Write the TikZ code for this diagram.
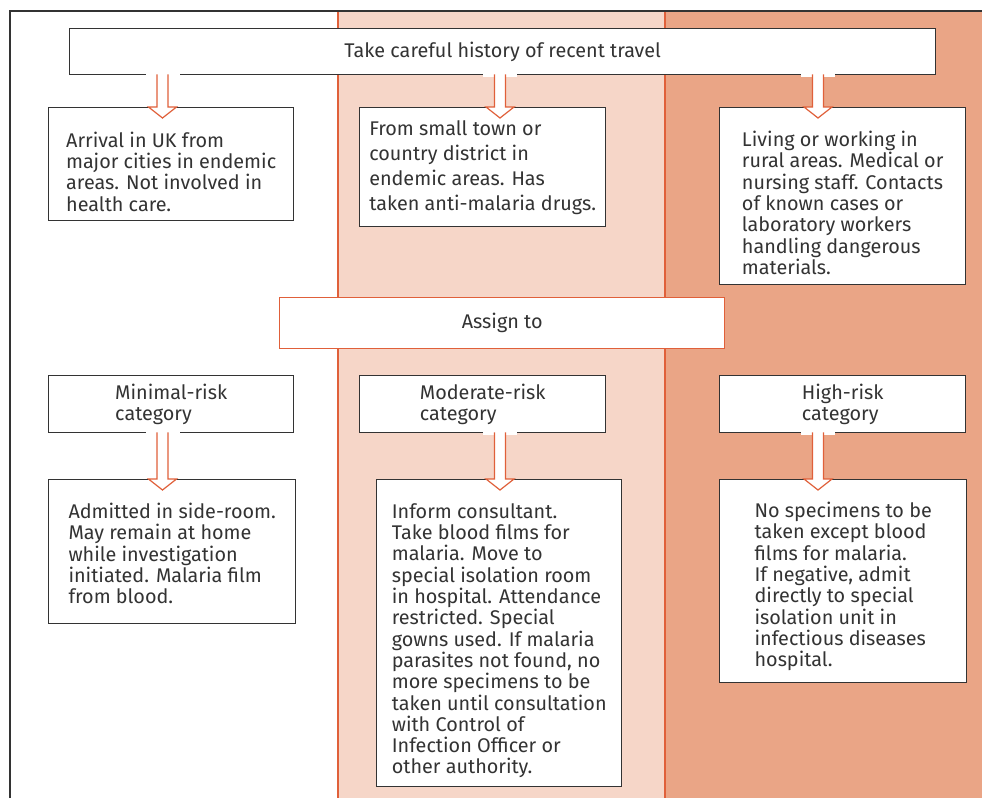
\documentclass[tikz,border=0pt]{standalone}
\usepackage{fontspec}
\setmainfont{Fira Sans}
\usetikzlibrary{calc}

\definecolor{bandlight}{HTML}{F6D6C8}
\definecolor{banddark}{HTML}{EAA586}
\definecolor{rule}{HTML}{E0603A}
\definecolor{ink}{HTML}{333333}

\tikzset{
  box/.style={draw=ink, line width=1.4pt, fill=white, align=left, text=ink,
    font=\fontsize{19.8}{21.3}\selectfont, anchor=north west, inner sep=0pt},
  flow/.style={draw=rule, line width=1.2pt, fill=white},
}

% taller first line pushes the text block down inside its box
\newcommand{\topgap}[1]{\rule{0pt}{#1}}

% hollow block arrow: #1 column, #2 upper box, #3 lower box
\newcommand{\flowdown}[3]{%
  \fill[white] ($(#2.south -| #1)+(-17,-1.5)$) rectangle ($(#2.south -| #1)+(17,1.5)$);
  \draw[flow] ($(#2.south -| #1)+(-5.5,-1)$) -- ($(#3.north -| #1)+(-5.5,0)$)
    -- ++(-8.5,0) -- ($(#3.north -| #1)+(0,11)$) -- ++(14,-11) -- ++(-8.5,0)
    -- ($(#2.south -| #1)+(5.5,-1)$);
}

\begin{document}
\begin{tikzpicture}[x=1pt,y=-1pt]
  \useasboundingbox (0,0) rectangle (982,798);

  % risk bands and frame
  \fill[bandlight] (338,11) rectangle (665,798);
  \fill[banddark] (665,11) rectangle (982,798);
  \draw[rule, line width=1.2pt] (338,11) -- (338,798);
  \draw[rule, line width=1.2pt] (665,11) -- (665,798);
  \draw[ink, line width=1.6pt] (10,798) -- (10,11) -- (982,11);

  \coordinate (colA) at (162.5,0);
  \coordinate (colB) at (500,0);
  \coordinate (colC) at (818,0);

  \node[box, minimum width=866, minimum height=46] (history) at (69,28)
    {Take careful history of recent travel};

  \node[box, minimum width=245, minimum height=113] (arrival) at (48,107)
    {\topgap{30pt}Arrival in UK from\\major cities in endemic\\areas. Not involved in\\health care.};
  \node[box, minimum width=246, minimum height=119,
        font=\fontsize{19.8}{25}\selectfont] (smalltown) at (359,107)
    {From small town or\\country district in\\endemic areas. Has\\taken anti-malaria drugs.};
  \node[box, minimum width=246, minimum height=177] (rural) at (719,107)
    {\topgap{29pt}Living or working in\\rural areas. Medical or\\nursing staff. Contacts\\of known cases or\\laboratory workers\\handling dangerous\\materials.};

  \node[box, draw=rule, minimum width=445, minimum height=51] (assign) at (279,297)
    {Assign to};

  \node[box, minimum width=245, minimum height=57] (minimal) at (48,375)
    {Minimal-risk\\category};
  \node[box, minimum width=246, minimum height=57] (moderate) at (359,375)
    {Moderate-risk\\category};
  \node[box, minimum width=246, minimum height=57] (high) at (719,375)
    {High-risk\\category};

  \node[box, minimum width=247, minimum height=144] (sideroom) at (48,479)
    {\topgap{19pt}Admitted in side-room.\\May remain at home\\while investigation\\initiated. Malaria film\\from blood.};
  \node[box, minimum width=245, minimum height=307] (consult) at (376,479)
    {\topgap{30pt}Inform consultant.\\Take blood films for\\malaria. Move to\\special isolation room\\in hospital. Attendance\\restricted. Special\\gowns used. If malaria\\parasites not found, no\\more specimens to be\\taken until consultation\\with Control of\\Infection Officer or\\other authority.};
  \node[box, minimum width=247, minimum height=203] (nospec) at (719,479)
    {\topgap{26pt}No specimens to be\\taken except blood\\films for malaria.\\If negative, admit\\directly to special\\isolation unit in\\infectious diseases\\hospital.};

  \flowdown{colA}{history}{arrival}
  \flowdown{colB}{history}{smalltown}
  \flowdown{colC}{history}{rural}
  \flowdown{colA}{minimal}{sideroom}
  \flowdown{colB}{moderate}{consult}
  \flowdown{colC}{high}{nospec}
\end{tikzpicture}
\end{document}
